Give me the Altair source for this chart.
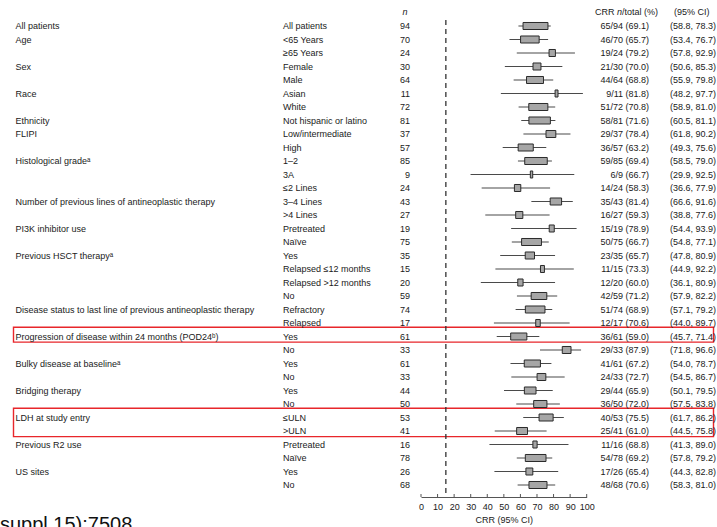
import altair as alt
import pandas as pd

# ---- forest plot data -------------------------------------------------------
groups = [
    "All patients", "Age", "", "Sex", "", "Race", "", "Ethnicity", "FLIPI", "",
    "Histological grade\u1d43", "", "", "Number of previous lines of antineoplastic therapy", "",
    "PI3K inhibitor use", "", "Previous HSCT therapy\u1d43", "", "", "",
    "Disease status to last line of previous antineoplastic therapy", "",
    "Progression of disease within 24 months (POD24\u1d47)", "",
    "Bulky disease at baseline\u1d43", "", "Bridging therapy", "",
    "LDH at study entry", "", "Previous R2 use", "", "US sites", "",
]
subgroups = [
    "All patients", "<65 Years", "\u226565 Years", "Female", "Male", "Asian", "White",
    "Not hispanic or latino", "Low/intermediate", "High", "1\u20132", "3A",
    "\u22642 Lines", "3\u20134 Lines", ">4 Lines", "Pretreated", "Na\u00efve",
    "Yes", "Relapsed \u226412 months", "Relapsed >12 months", "No",
    "Refractory", "Relapsed", "Yes", "No", "Yes", "No", "Yes", "No",
    "\u2264ULN", ">ULN", "Pretreated", "Na\u00efve", "Yes", "No",
]
n_total = [94, 70, 24, 30, 64, 11, 72, 81, 37, 57, 85, 9, 24, 43, 27, 19, 75,
           35, 15, 20, 59, 74, 17, 61, 33, 61, 33, 44, 50, 53, 41, 16, 78, 26, 68]
responders = [65, 46, 19, 21, 44, 9, 51, 58, 29, 36, 59, 6, 14, 35, 16, 15, 50,
              23, 11, 12, 42, 51, 12, 36, 29, 41, 24, 29, 36, 40, 25, 11, 54, 17, 48]
crr = [69.1, 65.7, 79.2, 70.0, 68.8, 81.8, 70.8, 71.6, 78.4, 63.2, 69.4, 66.7,
       58.3, 81.4, 59.3, 78.9, 66.7, 65.7, 73.3, 60.0, 71.2, 68.9, 70.6, 59.0,
       87.9, 67.2, 72.7, 65.9, 72.0, 75.5, 61.0, 68.8, 69.2, 65.4, 70.6]
ci_low = [58.8, 53.4, 57.8, 50.6, 55.9, 48.2, 58.9, 60.5, 61.8, 49.3, 58.5, 29.9,
          36.6, 66.6, 38.8, 54.4, 54.8, 47.8, 44.9, 36.1, 57.9, 57.1, 44.0, 45.7,
          71.8, 54.0, 54.5, 50.1, 57.5, 61.7, 44.5, 41.3, 57.8, 44.3, 58.3]
ci_high = [78.3, 76.7, 92.9, 85.3, 79.8, 97.7, 81.0, 81.1, 90.2, 75.6, 79.0, 92.5,
           77.9, 91.6, 77.6, 93.9, 77.1, 80.9, 92.2, 80.9, 82.2, 79.2, 89.7, 71.4,
           96.6, 78.7, 86.7, 79.5, 83.8, 86.2, 75.8, 89.0, 79.2, 82.8, 81.0]

highlight_first = [23, 29]
highlight_last = [23, 30]
axis_ticks = [0, 10, 20, 30, 40, 50, 60, 70, 80, 90, 100]
reference_crr = 15

header_labels = ["n", "CRR", "n", "/total (%)", "(95% CI)"]
header_x = [405, 595, 617, 622, 674]
header_styles = ["italic", "normal", "italic", "normal", "normal"]
header_align = ["center", "left", "left", "left", "left"]

rows = list(range(len(subgroups)))
df = pd.DataFrame({
    "row": rows,
    "group": groups,
    "subgroup": subgroups,
    "n": n_total,
    "r": responders,
    "crr": crr,
    "lo": ci_low,
    "hi": ci_high,
})
df["crr_txt"] = [f"{r}/{n} ({c:.1f})" for r, n, c in zip(responders, n_total, crr)]
df["ci_txt"] = [f"({a:.1f}, {b:.1f})" for a, b in zip(ci_low, ci_high)]

FONT = "Liberation Sans"
TXT = "#1a1a1a"
FS = 9

x_scale = alt.Scale(domain=[0, 100], range=[421, 586.7], nice=False, zero=False)
y_scale = alt.Scale(domain=[0, 34], range=[26, 485], nice=False, zero=False)
x_axis = alt.Axis(values=axis_ticks, ticks=False, labelPadding=5, labelFontSize=FS,
                  labelColor=TXT, labelFont=FONT, title="CRR (95% CI)", titleFont=FONT,
                  titleFontSize=FS, titleFontWeight="normal", titleColor=TXT,
                  titlePadding=4, domainColor="#555555", domainWidth=1, grid=False,
                  labelFlush=False)

base = alt.Chart(df)

def text_col(field, x, align):
    return base.mark_text(align=align, baseline="middle", font=FONT, fontSize=FS,
                          color=TXT).encode(
        x=alt.value(x),
        y=alt.Y("row:Q", scale=y_scale, axis=None),
        text=f"{field}:N",
    )

groups_layer = text_col("group", 15.5, "left")
sub_layer = text_col("subgroup", 283, "left")
n_layer = text_col("n", 410, "right")
crr_layer = text_col("crr_txt", 649, "right")
ci_layer = text_col("ci_txt", 670, "left")

whiskers = base.mark_rule(color="#4a4a4a", strokeWidth=1.2).encode(
    x=alt.X("lo:Q", scale=x_scale, axis=x_axis),
    x2="hi:Q",
    y=alt.Y("row:Q", scale=y_scale, axis=None),
)

# box width grows with the subgroup size, centred on the estimate
boxes = base.transform_calculate(
    b0="datum.crr - datum.n * 0.08",
    b1="datum.crr + datum.n * 0.08",
    y0="datum.row - 0.26",
    y1="datum.row + 0.26",
).mark_rect(fill="#a6a6a6", stroke="#2b2b2b", strokeWidth=1).encode(
    x=alt.X("b0:Q", scale=x_scale, axis=x_axis),
    x2="b1:Q",
    y=alt.Y("y0:Q", scale=y_scale, axis=None),
    y2="y1:Q",
)

ref_line = alt.Chart(pd.DataFrame({"v": [reference_crr]})).mark_rule(
    color="#333333", strokeWidth=1.3, strokeDash=[5, 4]
).encode(
    x=alt.X("v:Q", scale=x_scale, axis=x_axis),
    y=alt.value(20),
    y2=alt.value(497),
)

tick_marks = alt.Chart(pd.DataFrame({"t": axis_ticks})).mark_rule(
    color="#555555", strokeWidth=1
).encode(
    x=alt.X("t:Q", scale=x_scale, axis=x_axis),
    y=alt.value(494),
    y2=alt.value(497),
)

highlights = alt.Chart(pd.DataFrame({"a": highlight_first, "b": highlight_last})).transform_calculate(
    top="datum.a - 0.68",
    bottom="datum.b + 0.42",
).mark_rect(fill="transparent", stroke="#e8262b", strokeWidth=1.4).encode(
    x=alt.value(13.5),
    x2=alt.value(713.5),
    y=alt.Y("top:Q", scale=y_scale, axis=None),
    y2="bottom:Q",
)

header_layers = [
    alt.Chart(pd.DataFrame({"label": [lab]})).mark_text(
        align=al, baseline="middle", font=FONT, fontSize=FS, color=TXT, fontStyle=st
    ).encode(x=alt.value(x), y=alt.value(12), text="label:N")
    for lab, x, st, al in zip(header_labels, header_x, header_styles, header_align)
]

citation = alt.Chart(pd.DataFrame({"label": ["suppl 15):7508"]})).mark_text(
    align="left", baseline="alphabetic", font=FONT, fontSize=20, color="#111111"
).encode(x=alt.value(0), y=alt.value(531), text="label:N")

chart = alt.layer(
    highlights, ref_line, whiskers, boxes, tick_marks,
    groups_layer, sub_layer, n_layer, crr_layer, ci_layer,
    *header_layers, citation,
).properties(
    width=717, height=497,
    autosize=alt.AutoSizeParams(type="none"),
    padding={"left": 0, "top": 0, "right": 0, "bottom": 30},
    background="white",
).configure_view(stroke=None)

chart.save("out.html", embed_options={"renderer": "svg", "actions": False})
